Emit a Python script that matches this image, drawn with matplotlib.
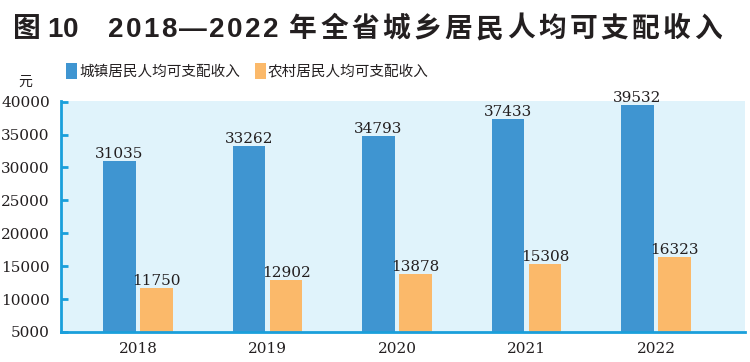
import matplotlib
matplotlib.use('Agg')
import matplotlib.pyplot as plt
import numpy as np

plt.rcParams['font.family'] = ['Noto Sans CJK SC', 'DejaVu Sans']

# data
years = ['2018', '2019', '2020', '2021', '2022']
urban = [31035, 33262, 34793, 37433, 39532]
rural = [11750, 12902, 13878, 15308, 16323]
yticks = [5000, 10000, 15000, 20000, 25000, 30000, 35000, 40000]

blue = '#3f95d1'
orange = '#fbb96a'
axis_blue = '#1a9fdb'
txt = '#231f20'

fig = plt.figure(figsize=(7.5, 3.62), dpi=100)
ax = fig.add_axes([0.0813, 0.0829, 0.912, 0.638])
ax.set_facecolor('#e0f3fb')

x = np.arange(len(years))
w = 0.25
b1 = ax.bar(x - 0.143, urban, w, color=blue, label='城镇居民人均可支配收入')
b2 = ax.bar(x + 0.143, rural, w, color=orange, label='农村居民人均可支配收入')

for bars in (b1, b2):
    ax.bar_label(bars, padding=0, fontsize=11, family='DejaVu Serif', color=txt)

ax.set_xlim(-0.595, 4.687)
ax.set_ylim(5000, 40100)
ax.set_xticks(x)
ax.set_xticklabels(years, family='DejaVu Serif', fontsize=11, color=txt)
ax.set_yticks(yticks)
ax.set_yticklabels([str(v) for v in yticks], family='DejaVu Serif', fontsize=11, color=txt)

ax.tick_params(axis='x', length=0, pad=7)
ax.tick_params(axis='y', direction='in', length=5, width=2, color=axis_blue, pad=8)

for s in ['top', 'right']:
    ax.spines[s].set_visible(False)
for s in ['left', 'bottom']:
    ax.spines[s].set_color(axis_blue)
    ax.spines[s].set_linewidth(2)


# title drawn char by char with a little letter spacing
renderer = fig.canvas.get_renderer()


def spaced_text(s, x0, y, track, size):
    xp = x0
    for ch in s:
        t = fig.text(xp / 750, y, ch, fontsize=size, fontweight='bold', color=txt,
                     va='center', ha='left', family=['Liberation Sans', 'Noto Sans CJK SC'])
        bb = t.get_window_extent(renderer)
        xp += bb.width + track


spaced_text('图', 13, 0.917, 3, 20)
spaced_text('10', 47, 0.917, 1, 20)
spaced_text('2018—2022', 108, 0.917, 2.3, 20)
spaced_text('年全省城乡居民人均可支配收入', 289, 0.917, 3.4, 20)

fig.text(0.024, 0.775, '元', fontsize=10, color=txt, va='center', ha='left')

ax.legend(loc='center left', bbox_to_anchor=(0.088, 0.805), bbox_transform=fig.transFigure,
          ncol=2, frameon=False, fontsize=10.5, handlelength=0.75, handleheight=1.3,
          handletextpad=0.15, columnspacing=1.0, borderaxespad=0, borderpad=0,
          labelcolor=txt)

fig.savefig('out.png', dpi=100)
